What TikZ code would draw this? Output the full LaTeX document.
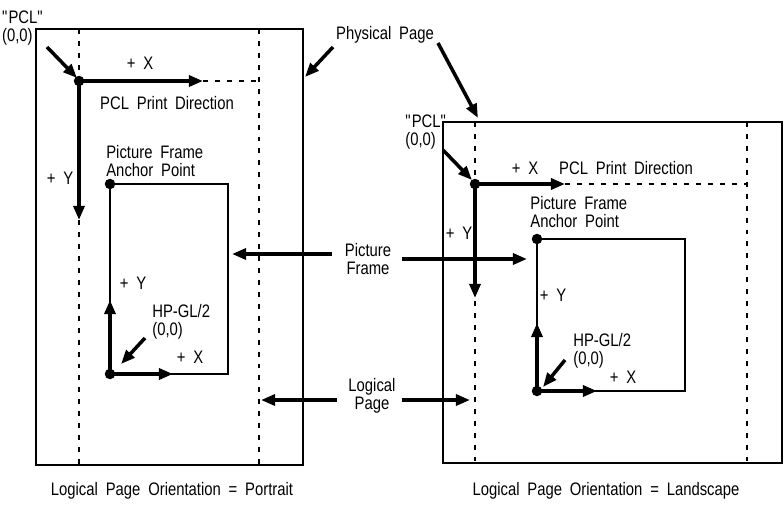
\documentclass[tikz,border=0pt]{standalone}
\usepackage{fontspec}
\setmainfont{Liberation Sans}[FakeStretch=0.82,WordSpace=1.9]
\usetikzlibrary{arrows.meta,positioning}
\tikzset{
	page/.style={draw,line width=1.1pt},
	frame/.style={draw,line width=0.8pt},
	logical/.style={line width=0.6pt,dash pattern=on 2.8pt off 4pt},
	axis/.style={line width=2pt,-{Triangle[length=8pt,width=6.2pt]}},
	callout/.style={line width=2pt,-{Triangle[length=8pt,width=6.2pt]}},
	dot/.style={circle,fill,inner sep=0pt,minimum size=0.21cm},
	txt/.style={inner sep=0pt,align=left,font=\fontsize{10.3}{10.4}\selectfont}
}
\begin{document}
\begin{tikzpicture}[x=0.02cm,y=-0.02cm]
			\useasboundingbox (0,0) rectangle (784,508);
			% portrait
			\draw[page] (36,29) rectangle (303,465);
			\draw[logical] (79,29) -- (79,465);
			\draw[logical] (259,29) -- (259,465);
			\draw[frame] (110,184) rectangle (228,374);
			\node[dot] (pclP) at (79,81) {};
			\node[dot] (anchorP) at (110,184) {};
			\node[dot] (hpglP) at (110,374) {};
			\coordinate (pxP) at (203,81);
			\coordinate (pxendP) at (259,81);
			\coordinate (pyP) at (79,220);
			\coordinate (hxP) at (173,374);
			\coordinate (hyP) at (110,300);
			\draw[axis] (pclP.center) -- (pxP);
			\draw[logical] (pxP) -- (pxendP);
			\draw[axis] (pclP.center) -- (pyP);
			\draw[axis] (hpglP.center) -- (hxP);
			\draw[axis] (hpglP.center) -- (hyP);
			\node[txt] (pcltP) at (23,28) {\textquotedbl PCL\textquotedbl\\(0,0)};
			\node[txt] at (140,63) {+ X};
			\node[txt] at (167,103) {PCL Print Direction};
			\node[txt] at (60,178) {+ Y};
			\node[txt,anchor=west] at (106,161) {Picture Frame\\Anchor Point};
			\node[txt] at (133,283) {+ Y};
			\node[txt,anchor=west] (hpgltP) at (152,322) {HP-GL/2\\(0,0)};
			\node[txt] at (190,357) {+ X};
			\node[txt] at (172,491) {Logical Page Orientation = Portrait};
			\coordinate (c1) at (47,47);
			\coordinate (c2) at (77,78);
			\draw[callout] (c1) -- (c2);
			\coordinate (c3) at (145,338);
			\coordinate (c4) at (121,364);
			\draw[callout] (c3) -- (c4);
			% landscape
			\draw[page] (443,122) rectangle (782,463);
			\draw[logical] (475,122) -- (475,463);
			\draw[logical] (747,122) -- (747,463);
			\draw[frame] (537,239) rectangle (685,391);
			\node[dot] (pclL) at (475,184) {};
			\node[dot] (anchorL) at (537,239) {};
			\node[dot] (hpglL) at (537,391) {};
			\coordinate (pxL) at (565,184);
			\coordinate (pxendL) at (747,184);
			\coordinate (pyL) at (475,298);
			\coordinate (hxL) at (597,391);
			\coordinate (hyL) at (537,323);
			\draw[axis] (pclL.center) -- (pxL);
			\draw[logical] (pxL) -- (pxendL);
			\draw[axis] (pclL.center) -- (pyL);
			\draw[axis] (hpglL.center) -- (hxL);
			\draw[axis] (hpglL.center) -- (hyL);
			\node[txt,anchor=west] (pcltL) at (405,132) {\textquotedbl PCL\textquotedbl\\(0,0)};
			\node[txt] at (525,168) {+ X};
			\node[txt] at (626,168) {PCL Print Direction};
			\node[txt] at (459,233) {+ Y};
			\node[txt,anchor=west] at (530,212) {Picture Frame\\Anchor Point};
			\node[txt] at (553,295) {+ Y};
			\node[txt,anchor=west] (hpgltL) at (573,351) {HP-GL/2\\(0,0)};
			\node[txt] at (623,377) {+ X};
			\node[txt] at (606,491) {Logical Page Orientation = Landscape};
			\coordinate (c5) at (443,150);
			\coordinate (c6) at (472,180);
			\draw[callout] (c5) -- (c6);
			\coordinate (c7) at (565,360);
			\coordinate (c8) at (543,387);
			\draw[callout] (c7) -- (c8);
			% labels between
			\node[txt] (phys) at (385,35) {Physical Page};
			\node[txt,align=center] (pframe) at (368,259) {Picture\\Frame};
			\node[txt,align=center] (lpage) at (372,396) {Logical\\Page};
			\coordinate (ph1) at (333,47);
			\coordinate (ph2) at (305,77);
			\coordinate (ph3) at (438,43);
			\coordinate (ph4) at (478,118);
			\draw[callout] (ph1) -- (ph2);
			\draw[callout] (ph3) -- (ph4);
			\coordinate (pf1) at (332,254);
			\coordinate (pf2) at (232,254);
			\coordinate (pf3) at (402,259);
			\coordinate (pf4) at (527,259);
			\draw[callout] (pf1) -- (pf2);
			\draw[callout] (pf3) -- (pf4);
			\coordinate (lp1) at (337,400);
			\coordinate (lp2) at (261,400);
			\coordinate (lp3) at (402,400);
			\coordinate (lp4) at (470,400);
			\draw[callout] (lp1) -- (lp2);
			\draw[callout] (lp3) -- (lp4);
		\end{tikzpicture}
\end{document}
